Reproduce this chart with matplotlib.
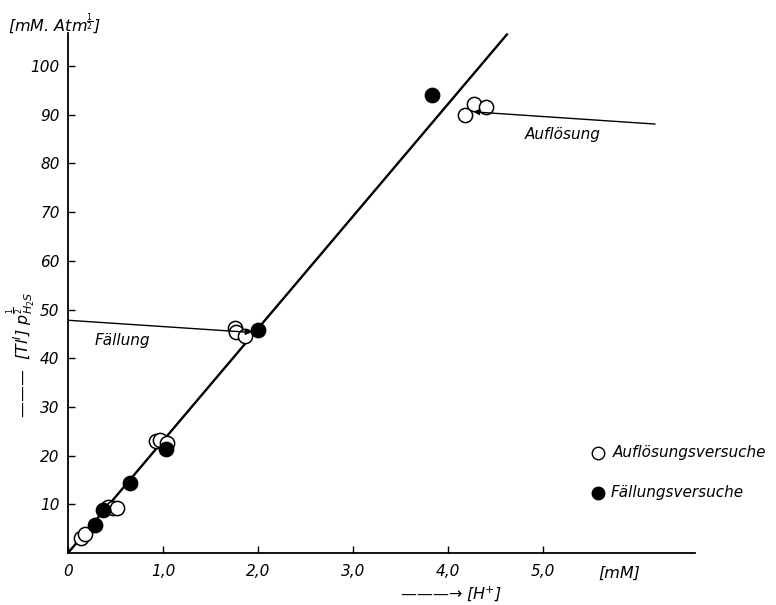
import matplotlib
matplotlib.use("Agg")
import matplotlib.pyplot as plt

plt.rcParams['font.family'] = ['DejaVu Sans']
plt.rcParams['mathtext.fontset'] = 'dejavusans'

# Data
open_x = [0.14, 0.18, 0.42, 0.47, 0.52, 0.93, 0.97, 1.04, 1.76, 1.77, 1.86, 4.18, 4.27, 4.40]
open_y = [3.0, 3.8, 9.4, 9.3, 9.2, 23.0, 23.2, 22.5, 46.2, 45.3, 44.5, 90.0, 92.3, 91.5]
filled_x = [0.28, 0.37, 0.65, 1.03, 2.00, 3.83]
filled_y = [5.8, 8.8, 14.3, 21.3, 45.7, 94.0]
fit_x = [0.0, 4.62]
fit_y = [0.0, 106.5]

x_ticks = [0, 1, 2, 3, 4, 5]
x_ticklabels = ["0", "1,0", "2,0", "3,0", "4,0", "5,0"]
y_ticks = [10, 20, 30, 40, 50, 60, 70, 80, 90, 100]
y_ticklabels = [str(v) for v in y_ticks]

fig = plt.figure(figsize=(7.76, 6.05), dpi=100)
ax = fig.add_axes([68/776, 1-553/605, (695-68)/776, (553-33)/605])
ax.set_xlim(0, 6.6)
ax.set_ylim(0, 106.8)

for s in ['top', 'right']:
    ax.spines[s].set_visible(False)
for s in ['left', 'bottom']:
    ax.spines[s].set_linewidth(1.3)
    ax.spines[s].set_color('black')

ax.plot(fit_x, fit_y, color='black', lw=1.7, zorder=2)
ax.scatter(open_x, open_y, s=105, facecolor='white', edgecolor='black', linewidth=1.1, zorder=3)
ax.scatter(filled_x, filled_y, s=105, facecolor='black', edgecolor='black', linewidth=1.1, zorder=4)

ax.set_xticks(x_ticks)
ax.set_xticklabels(x_ticklabels, fontstyle='italic', fontsize=11)
ax.set_yticks(y_ticks)
ax.set_yticklabels(y_ticklabels, fontstyle='italic', fontsize=11)
ax.tick_params(axis='both', direction='in', length=5, width=1.0, color='black')
ax.tick_params(axis='x', pad=8)
ax.tick_params(axis='y', pad=6)

# annotation lines
ax.annotate("", xy=(4.27, 90.6), xytext=(6.18, 88.1),
            arrowprops=dict(arrowstyle='-|>', color='black', lw=1.0,
                            mutation_scale=8, shrinkA=0, shrinkB=0), zorder=5)
ax.text(5.21, 86.0, "Auflösung", fontstyle='italic', fontsize=11, ha='center', va='center')
ax.annotate("", xy=(1.93, 45.3), xytext=(0.0, 47.8),
            arrowprops=dict(arrowstyle='-|>', color='black', lw=1.0,
                            mutation_scale=8, shrinkA=0, shrinkB=0), zorder=5)
ax.text(0.57, 43.6, "Fällung", fontstyle='italic', fontsize=11, ha='center', va='center')

# legend (drawn as markers + text)
fig.lines.append(plt.Line2D([598/776], [1-453/605], transform=fig.transFigure, marker='o',
                            markersize=9, markerfacecolor='white', markeredgecolor='black', linestyle=''))
fig.lines.append(plt.Line2D([598/776], [1-493/605], transform=fig.transFigure, marker='o',
                            markersize=9, markerfacecolor='black', markeredgecolor='black', linestyle=''))
fig.text(613/776, 1-453/605, "Auflösungsversuche", fontstyle='italic', fontsize=11, va='center', ha='left')
fig.text(611/776, 1-493/605, "Fällungsversuche", fontstyle='italic', fontsize=11, va='center', ha='left')

# axis labels
fig.text(8/776, 1-24/605, r"[mM. Atm$^{\frac{1}{2}}$]", fontstyle='italic', fontsize=11.5, va='center', ha='left')
fig.text(598/776, 1-573/605, "[mM]", fontstyle='italic', fontsize=11.5, va='center', ha='left')
fig.text(400/776, 1-594/605, "———→ [H$^{+}$]", fontstyle='italic', fontsize=11.5, va='center', ha='left')
fig.text(21/776, 1-355/605, r"———  [Tl$^{I}$] $p^{\frac{1}{2}}_{H_2S}$", fontstyle='italic', fontsize=11.5,
         va='center', ha='center', rotation=90)

fig.savefig("out.png", dpi=100)
